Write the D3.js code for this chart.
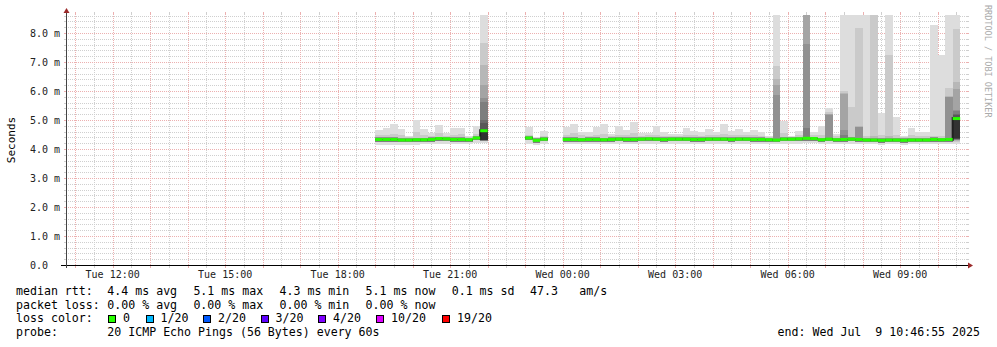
<!DOCTYPE html>
<html>
<head>
<meta charset="utf-8">
<script src="https://cdn.jsdelivr.net/npm/d3@7"></script>
<style>
  html, body { margin: 0; padding: 0; background: #fff; }
  svg { display: block; font-family: 'DejaVu Sans Mono', monospace; }
  text { white-space: pre; }
</style>
</head>
<body>
<svg id="chart" width="997" height="347"></svg>
<script>
// graph time range and rrd consolidation step
const rangeStart = '2025-07-08T10:46:55Z';
const rangeEnd = '2025-07-09T10:46:55Z';
const binMinutes = 12;

// start of each run of known data
const segmentStarts = ['2025-07-08T19:00:00Z', '2025-07-08T23:00:00Z', '2025-07-09T00:00:00Z'];

// median rtt per bin (ms)
const medianA = [4.33, 4.33, 4.33, 4.31, 4.31, 4.32, 4.32, 4.33, 4.36, 4.35, 4.33, 4.33, 4.32, 4.38, 4.63];
const medianB = [4.38, 4.30, 4.34];
const medianC = [
  4.33, 4.33, 4.32, 4.33, 4.33, 4.32, 4.33, 4.34, 4.33, 4.33,
  4.34, 4.35, 4.34, 4.33, 4.34, 4.34, 4.34, 4.33, 4.33, 4.34,
  4.34, 4.34, 4.33, 4.34, 4.34, 4.33, 4.33, 4.32, 4.31, 4.34,
  4.34, 4.35, 4.37, 4.36, 4.32, 4.34, 4.32, 4.33, 4.34, 4.33,
  4.31, 4.31, 4.30, 4.31, 4.31, 4.30, 4.31, 4.31, 4.31, 4.33,
  4.32, 4.33, 5.05
];

// sorted pings above the median, slowest first (p20, p19, ...), ms
const upperA = [
  [4.66, 4.48], [4.73, 4.47], [4.86, 4.52], [4.69, 4.50], [4.46, 4.40],
  [5.00, 4.58], [4.69, 4.48], [4.55, 4.45], [4.82, 4.55], [4.55, 4.46],
  [4.72, 4.50], [4.72, 4.52], [4.45, 4.40], [4.79, 4.52],
  [9.90, 7.64, 6.90, 6.20, 5.76, 5.63, 5.00, 4.90, 4.70, 4.66]
];
const upperB = [[4.76, 4.50], [4.42, 4.38], [4.63, 4.45]];
const upperC = [
  [4.76, 4.50], [4.86, 4.55], [4.59, 4.48], [4.59, 4.46], [4.76, 4.50],
  [4.86, 4.52], [4.51, 4.45], [4.79, 4.50], [4.66, 4.48], [4.93, 4.55],
  [4.56, 4.45], [4.56, 4.47], [4.79, 4.50], [4.59, 4.46], [4.51, 4.44],
  [4.53, 4.45], [4.72, 4.50], [4.62, 4.48], [4.59, 4.46], [4.69, 4.50],
  [4.59, 4.47], [4.86, 4.52], [4.62, 4.48], [4.69, 4.50], [4.59, 4.47],
  [4.66, 4.48], [4.59, 4.46], [4.45, 4.40],
  [9.90, 6.87, 6.41, 6.22, 5.87],
  [4.97, 4.55], [4.46, 4.41], [4.62, 4.48],
  [9.90, 9.90, 9.90, 9.90, 7.62, 4.71],
  [4.59, 4.47], [4.79, 4.50],
  [5.42, 5.27, 5.22, 5.20, 5.16],
  [4.52, 4.44],
  [9.90, 6.01, 5.93, 5.90, 4.66, 4.50],
  [9.90, 5.46],
  [9.90, 8.17, 4.78, 4.77, 4.76],
  [9.90, 4.45],
  [9.90, 9.90, 4.45],
  [5.23, 4.50],
  [9.90, 7.25, 4.45],
  [5.12, 4.50], [4.45, 4.40], [4.74, 4.48], [4.60, 4.45], [4.60, 4.45],
  [8.26, 4.45], [7.25, 4.45],
  [9.90, 6.10, 5.82, 5.80, 5.78],
  [9.90, 8.15, 6.31, 6.06, 5.34, 5.30, 5.22, 5.18, 5.12, 5.08]
];

// sorted pings below the median, fastest first (p1, p2, ...), ms
const lowerA = [
  [4.14], [4.14], [4.15], [4.14], [4.15], [4.15], [4.16], [4.16], [4.18], [4.17],
  [4.16], [4.16], [4.17], [4.20],
  [4.22, 4.26, 4.27, 4.28, 4.29, 4.29, 4.30, 4.30, 4.31, 4.31]
];
const lowerB = [[4.18], [4.15], [4.18]];
const lowerC = [
  [4.17], [4.17], [4.16], [4.17], [4.17], [4.16], [4.17], [4.18], [4.17], [4.17],
  [4.18], [4.18], [4.18], [4.17], [4.18], [4.18], [4.18], [4.17], [4.17], [4.18],
  [4.18], [4.18], [4.17], [4.18], [4.18], [4.17], [4.17], [4.16], [4.16], [4.18],
  [4.18], [4.18], [4.19], [4.19], [4.16], [4.18], [4.16], [4.17], [4.18], [4.17],
  [4.16], [4.16], [4.15], [4.16], [4.16], [4.15], [4.16], [4.16], [4.16], [4.17],
  [4.16], [4.17],
  [4.17, 4.25, 4.28, 4.30, 4.31, 4.31, 4.35, 4.36, 4.36, 4.37]
];

// legend contents
const rttStats = ['4.4 ms avg', '5.1 ms max', '4.3 ms min', '5.1 ms now', '0.1 ms sd'];
const amsValue = '47.3';
const lossStats = ['0.00 % avg', '0.00 % max', '0.00 % min', '0.00 % now'];
const lossLabels = ['0', '1/20', '2/20', '3/20', '4/20', '10/20', '19/20'];
const lossColors = ['#26ff00', '#00b8ff', '#0059ff', '#5e00ff', '#7e00ff', '#dd00ff', '#ff0000'];
const probeText = '20 ICMP Echo Pings (56 Bytes) every 60s';
const yTicks = [0, 1, 2, 3, 4, 5, 6, 7, 8];

const svg = d3.select('#chart');
const plot = {left: 67, right: 967, top: 15, bottom: 265};
const pings = 20, half = pings / 2;

const x = d3.scaleUtc()
  .domain([new Date(rangeStart), new Date(rangeEnd)])
  .range([plot.left, plot.right]);

const y = d3.scaleLinear()
  .domain([0, (plot.bottom - plot.top) / 29])
  .range([plot.bottom, plot.top]);

// flatten segments into bins
const segments = [
  {start: segmentStarts[0], median: medianA, upper: upperA, lower: lowerA},
  {start: segmentStarts[1], median: medianB, upper: upperB, lower: lowerB},
  {start: segmentStarts[2], median: medianC, upper: upperC, lower: lowerC}
];

const bins = [];
segments.forEach((s, si) => {
  const t0 = new Date(s.start);
  s.median.forEach((m, i) => bins.push({
    seg: si,
    t0: d3.utcMinute.offset(t0, i * binMinutes),
    t1: d3.utcMinute.offset(t0, (i + 1) * binMinutes),
    median: m,
    upper: s.upper[i],
    lower: s.lower[i]
  }));
});

// smokeping smoke: layer i spans ping i .. ping (21 - i)
const smokeGrey = i => {
  const c = Math.floor(190 / half * (half - i)) + 50;
  return d3.rgb(c, c, c).formatHex();
};

// pings not listed sit on the median; the outer ones peek out of the line
const layers = [];
bins.forEach(b => {
  let top = Infinity, bottom = -Infinity;
  for (let i = 1; i <= half; i++) {
    const upGap = i <= 5 ? 0.07 : 0.03,
          downGap = i <= 6 ? 0.08 : 0.03;
    top = b.upper[i - 1] !== undefined ? b.upper[i - 1] : Math.min(b.median + upGap, top);
    bottom = b.lower[i - 1] !== undefined ? b.lower[i - 1] : Math.max(b.median - downGap, bottom);
    layers.push({bin: b, i, top, bottom});
  }
});

svg.append('rect')
  .attr('width', 997)
  .attr('height', 347)
  .attr('fill', '#fff');

svg.append('clipPath')
    .attr('id', 'plot-clip')
  .append('rect')
    .attr('x', plot.left)
    .attr('y', plot.top)
    .attr('width', plot.right - plot.left)
    .attr('height', plot.bottom - plot.top);

// grid
const minorColor = '#cfcfcf', majorColor = '#ecb0b0';
const minorY = d3.range(1, 44).map(k => k * 0.2).filter(v => Math.abs(v - Math.round(v)) > 0.01);
const majorY = yTicks.filter(v => v > 0);
const halfHours = d3.utcMinute.every(30).range(...x.domain());
const minorX = halfHours.filter(d => d.getUTCMinutes() === 30);
const majorX = halfHours.filter(d => d.getUTCMinutes() === 0);

const grid = svg.append('g').attr('shape-rendering', 'crispEdges');

function hGrid (values, color) {
  const g = grid.append('g').attr('stroke', color);
  g.selectAll('.dash').data(values).join('line')
    .attr('x1', plot.left + 1).attr('x2', plot.right + 1)
    .attr('y1', d => Math.round(y(d)) + 0.5).attr('y2', d => Math.round(y(d)) + 0.5)
    .attr('stroke-dasharray', '1,1');
  g.selectAll('.tick').data(values).join('path')
    .attr('d', d => {
      const yy = Math.round(y(d)) + 0.5;
      return `M${plot.left - 3},${yy}H${plot.left}M${plot.right},${yy}H${plot.right + 2}`;
    });
}

function vGrid (values, color) {
  const g = grid.append('g').attr('stroke', color);
  g.selectAll('.dash').data(values).join('line')
    .attr('x1', d => Math.round(x(d)) + 0.5).attr('x2', d => Math.round(x(d)) + 0.5)
    .attr('y1', plot.top - 1).attr('y2', plot.bottom)
    .attr('stroke-dasharray', '1,1');
  g.selectAll('.tick').data(values).join('path')
    .attr('d', d => {
      const xx = Math.round(x(d)) + 0.5;
      return `M${xx},${plot.top - 3}V${plot.top - 1}M${xx},${plot.bottom}V${plot.bottom + 3}`;
    });
}

hGrid(minorY, minorColor);
vGrid(minorX, minorColor);
hGrid(majorY, majorColor);
vGrid(majorX, majorColor);

// smoke
svg.append('g')
    .attr('clip-path', 'url(#plot-clip)')
    .attr('shape-rendering', 'crispEdges')
  .selectAll('rect')
  .data(layers)
  .join('rect')
    .attr('x', d => x(d.bin.t0))
    .attr('width', d => x(d.bin.t1) - x(d.bin.t0))
    .attr('y', d => y(d.top))
    .attr('height', d => Math.max(0, y(d.bottom) - y(d.top)))
    .attr('fill', d => smokeGrey(d.i));

// median: dark step connectors, then loss coloured line
const medianGroup = svg.append('g').attr('clip-path', 'url(#plot-clip)');

const steps = bins
  .map((b, i) => ({b, prev: bins[i - 1]}))
  .filter(d => d.prev && d.prev.seg === d.b.seg && Math.abs(d.prev.median - d.b.median) > 0.15);

medianGroup.selectAll('.step').data(steps).join('line')
  .attr('x1', d => x(d.b.t0)).attr('x2', d => x(d.b.t0))
  .attr('y1', d => Math.min(y(d.b.median), y(d.prev.median)) - 1.5)
  .attr('y2', d => Math.max(y(d.b.median), y(d.prev.median)) + 1.5)
  .attr('stroke', '#202020')
  .attr('stroke-width', 2);

medianGroup.selectAll('.median').data(bins).join('line')
  .attr('x1', d => x(d.t0)).attr('x2', d => x(d.t1))
  .attr('y1', d => y(d.median)).attr('y2', d => y(d.median))
  .attr('stroke', lossColors[0])
  .attr('stroke-width', 3);

// axes
const axisRed = '#9b2a2a';
svg.append('path')
  .attr('d', `M${plot.left - 6},${plot.bottom + 0.5}H${plot.right + 2}`)
  .attr('stroke', '#000')
  .attr('shape-rendering', 'crispEdges');
svg.append('path')
  .attr('d', `M${plot.left - 0.5},${plot.bottom + 3}V${plot.top - 4}`)
  .attr('stroke', '#444')
  .attr('shape-rendering', 'crispEdges');
svg.append('path')
  .attr('d', `M${plot.right + 1},${plot.bottom - 2.5}L${plot.right + 6},${plot.bottom + 0.5}L${plot.right + 1},${plot.bottom + 3.5}Z`)
  .attr('fill', axisRed);
svg.append('path')
  .attr('d', `M${plot.left - 3.5},${plot.top - 2}L${plot.left - 0.5},${plot.top - 7}L${plot.left + 2.5},${plot.top - 2}Z`)
  .attr('fill', axisRed);

// y labels
svg.append('g')
    .attr('font-size', 10)
    .attr('fill', '#222')
  .selectAll('text')
  .data(yTicks)
  .join('text')
    .attr('x', 30)
    .attr('y', d => y(d) + 3.5)
    .text(d => d === 0 ? '0.0' : `${d3.format('.1f')(d)} m`);

// x labels
const fmtTick = d3.utcFormat('%a %H:%M');
svg.append('g')
    .attr('font-size', 10)
    .attr('fill', '#222')
    .attr('text-anchor', 'middle')
  .selectAll('text')
  .data(majorX.filter(d => d.getUTCHours() % 3 === 0))
  .join('text')
    .attr('x', d => x(d))
    .attr('y', 278)
    .text(d => fmtTick(d));

svg.append('text')
  .attr('transform', `translate(15,${(plot.top + plot.bottom) / 2}) rotate(-90)`)
  .attr('text-anchor', 'middle')
  .attr('font-size', 11)
  .text('Seconds');

svg.append('text')
  .attr('transform', 'translate(985,5) rotate(90)')
  .attr('font-size', 8.5)
  .attr('fill', '#aaa')
  .text('RRDTOOL / TOBI OETIKER');

// legend
const legend = svg.append('g').attr('font-size', 11.6).attr('fill', '#000');
const rowY = [295, 308.7, 322.4, 336];
const colX = 107.3, colStep = 86.1;

legend.append('text').attr('x', 16).attr('y', rowY[0]).text('median rtt:');
rttStats.forEach((s, j) => legend.append('text').attr('x', colX + j * colStep).attr('y', rowY[0]).text(s));
legend.append('text').attr('x', 530).attr('y', rowY[0]).text(amsValue);
legend.append('text').attr('x', 579.3).attr('y', rowY[0]).text('am/s');

legend.append('text').attr('x', 16).attr('y', rowY[1]).text('packet loss:');
lossStats.forEach((s, j) => legend.append('text').attr('x', colX + j * colStep).attr('y', rowY[1]).text(s));

legend.append('text').attr('x', 16).attr('y', rowY[2]).text('loss color:');
const boxX = [108.5, 146, 203.5, 261, 318.5, 376.5, 442.5];
lossLabels.forEach((label, j) => {
  legend.append('rect')
    .attr('x', boxX[j]).attr('y', 315.5)
    .attr('width', 7).attr('height', 7)
    .attr('fill', lossColors[j])
    .attr('stroke', '#000')
    .attr('shape-rendering', 'crispEdges');
  legend.append('text').attr('x', boxX[j] + 14.5).attr('y', rowY[2]).text(label);
});

legend.append('text').attr('x', 16).attr('y', rowY[3]).text('probe:');
legend.append('text').attr('x', colX).attr('y', rowY[3]).text(probeText);
legend.append('text')
  .attr('x', 980)
  .attr('y', rowY[3])
  .attr('text-anchor', 'end')
  .text(`end: ${d3.utcFormat('%a %b %e %H:%M:%S %Y')(new Date(rangeEnd))}`);
</script>
</body>
</html>
